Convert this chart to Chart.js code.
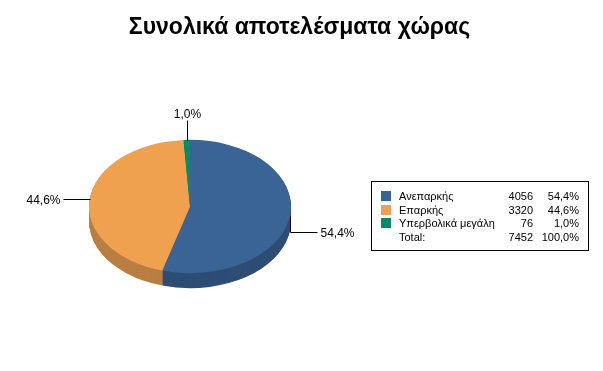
<!DOCTYPE html>
<html>
<head>
<meta charset="utf-8">
<script src="https://cdn.jsdelivr.net/npm/chart.js@4/dist/chart.umd.min.js"></script>
<style>
  html, body { margin: 0; padding: 0; background: #fff; }
  #wrap { width: 603px; height: 371px; }
</style>
</head>
<body>
<div id="wrap"><canvas id="pieChart"></canvas></div>
<script>
// data
const chartTitle = 'Συνολικά αποτελέσματα χώρας';
const categories = ['Ανεπαρκής', 'Επαρκής', 'Υπερβολικά μεγάλη'];
const counts = [4056, 3320, 76];
const totalLabel = 'Total:';

const sliceColors = ['#3a6496', '#f0a150', '#068c68'];
const sideColors = ['#2e4d75', '#b97e42', '#04694e'];

const TILT = 0.66;   // vertical squash of the pie
const DEPTH = 15;    // thickness of the 3d rim
const FONT = "'Liberation Sans', Arial, sans-serif";

const total = counts.reduce((a, b) => a + b, 0);
const pct = v => (v / total * 100).toFixed(1).replace('.', ',') + '%';

// draws the rim, squashes the pie, adds leader lines + the table legend
const pie3d = {
    id: 'pie3d',
    beforeDatasetsDraw(chart) {
        const ctx = chart.ctx;
        const arcs = chart.getDatasetMeta(0).data;
        ctx.save();
        for (let d = DEPTH; d > 0; d--) {
            arcs.forEach((arc, i) => {
                const p = arc.getProps(['x', 'y', 'startAngle', 'endAngle', 'outerRadius']);
                ctx.beginPath();
                ctx.ellipse(p.x, p.y + d, p.outerRadius, p.outerRadius * TILT, 0, p.startAngle, p.endAngle);
                ctx.lineTo(p.x, p.y + d);
                ctx.closePath();
                ctx.fillStyle = sideColors[i];
                ctx.fill();
            });
        }
        ctx.restore();

        // squash the top face
        const a0 = arcs[0];
        ctx.save();
        ctx.translate(a0.x, a0.y);
        ctx.scale(1, TILT);
        ctx.translate(-a0.x, -a0.y);
    },
    afterDatasetsDraw(chart) {
        const ctx = chart.ctx;
        ctx.restore();

        // percentage labels with leader lines
        const arcs = chart.getDatasetMeta(0).data;
        ctx.save();
        ctx.strokeStyle = '#000';
        ctx.lineWidth = 1;
        ctx.fillStyle = '#000';
        ctx.font = '12px ' + FONT;
        arcs.forEach((arc, i) => {
            const p = arc.getProps(['x', 'y', 'startAngle', 'endAngle', 'outerRadius']);
            const mid = (p.startAngle + p.endAngle) / 2;
            const cos = Math.cos(mid), sin = Math.sin(mid);
            let x = Math.round(p.x + p.outerRadius * cos) + 0.5;
            let y = Math.round(p.y + p.outerRadius * TILT * sin) + 0.5;
            ctx.beginPath();
            ctx.moveTo(x, y);
            if (sin > 0) {
                y += DEPTH + 1;
                ctx.lineTo(x, y);
            }
            const text = pct(counts[i]);
            if (Math.abs(cos) > 0.3) {
                const dir = cos > 0 ? 1 : -1;
                x += dir * 27;
                ctx.lineTo(x, y);
                ctx.stroke();
                ctx.textBaseline = 'middle';
                ctx.textAlign = dir > 0 ? 'left' : 'right';
                ctx.fillText(text, x + dir * 3, y + 1);
            } else {
                y -= 20;
                ctx.lineTo(x, y);
                ctx.stroke();
                ctx.textBaseline = 'bottom';
                ctx.textAlign = 'center';
                ctx.fillText(text, x, y);
            }
        });
        ctx.restore();
    },
    afterDraw(chart) {
        const ctx = chart.ctx;
        ctx.save();

        // title, centred on the whole canvas
        ctx.fillStyle = '#000';
        ctx.font = 'bold 23px ' + FONT;
        ctx.textAlign = 'center';
        ctx.textBaseline = 'alphabetic';
        ctx.fillText(chartTitle, chart.width / 2 - 2, 34);

        // legend table
        const box = { x: 371, y: 181, w: 217, h: 69 };
        const rowH = 13.6, firstRow = 196;
        ctx.strokeStyle = '#000';
        ctx.lineWidth = 1;
        ctx.strokeRect(box.x + 0.5, box.y + 0.5, box.w, box.h);
        ctx.font = '11px ' + FONT;
        ctx.textBaseline = 'middle';
        const rows = categories.map((c, i) => [c, counts[i], sliceColors[i]]);
        rows.push([totalLabel, total, null]);
        rows.forEach((r, i) => {
            const y = firstRow + i * rowH;
            if (r[2]) {
                ctx.fillStyle = r[2];
                ctx.fillRect(box.x + 10, Math.round(y - 5), 10, 10);
            }
            ctx.fillStyle = '#000';
            ctx.textAlign = 'left';
            ctx.fillText(r[0], box.x + 28, y + 1);
            ctx.textAlign = 'right';
            ctx.fillText(String(r[1]), box.x + 162, y + 1);
            ctx.fillText(pct(r[1]), box.x + 208, y + 1);
        });
        ctx.restore();
    }
};

new Chart(document.getElementById('pieChart'), {
    type: 'pie',
    data: {
        labels: categories,
        datasets: [{
            data: counts,
            backgroundColor: sliceColors,
            borderWidth: 0,
            radius: 101
        }]
    },
    options: {
        responsive: true,
        maintainAspectRatio: false,
        animation: false,
        layout: { padding: { left: 0, right: 223, top: 47, bottom: 5 } },
        plugins: {
            legend: { display: false },
            tooltip: { enabled: false },
            title: { display: false }
        }
    },
    plugins: [pie3d]
});
</script>
</body>
</html>
